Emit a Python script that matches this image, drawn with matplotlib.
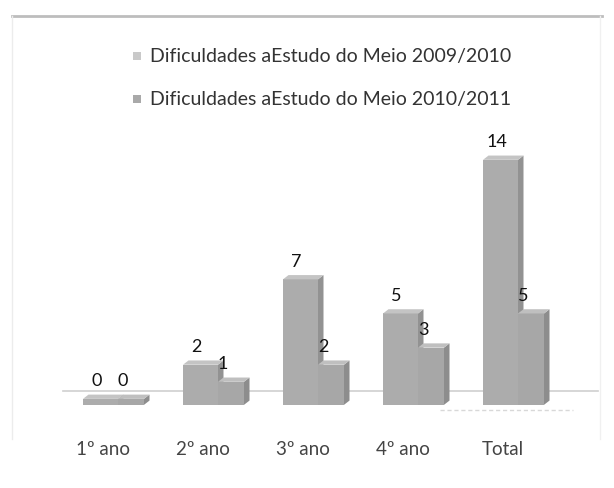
import numpy as np
import matplotlib
matplotlib.use("Agg")
import matplotlib.pyplot as plt
from matplotlib.patches import Polygon, Rectangle
from matplotlib.lines import Line2D

categories = ["1º ano", "2º ano", "3º ano", "4º ano", "Total"]
serie_0910 = [0, 2, 7, 5, 14]
serie_1011 = [0, 1, 2, 3, 5]
legend_labels = ["Dificuldades aEstudo do Meio 2009/2010",
                 "Dificuldades aEstudo do Meio 2010/2011"]

plt.rcParams['font.family'] = ['Lato', 'DejaVu Sans']

fig = plt.figure(figsize=(6.14, 4.88), dpi=100)
ax = fig.add_axes([0, 0, 1, 1])
ax.set_xlim(-1.13, 5.01)
ax.set_ylim(-5.22, 23.36)
ax.axis("off")

base = -0.35      # 3D floor thickness
dx, dy = 0.055, 0.25  # depth of the fake 3D faces

def bar3d(x0, x1, h, front, side, top, z):
    ax.add_patch(Rectangle((x0, base), x1 - x0, h - base, fc=front, ec="none", zorder=z))
    ax.add_patch(Polygon([(x1, base), (x1 + dx, base + dy), (x1 + dx, h + dy), (x1, h)],
                         closed=True, fc=side, ec="none", zorder=z))
    ax.add_patch(Polygon([(x0, h), (x0 + dx, h + dy), (x1 + dx, h + dy), (x1, h)],
                         closed=True, fc=top, ec="none", zorder=z))

# floor lines
ax.plot([-0.5, 4.85], [0.45, 0.45], color="#cfcfcf", lw=1.2, zorder=1)
ax.plot([3.27, 4.6], [-0.65, -0.65], color="#d8d8d8", lw=1, ls=(0, (3, 2)), zorder=1)

for i, (a, b) in enumerate(zip(serie_0910, serie_1011)):
    bar3d(i - 0.30, i + 0.05, a, "#acacac", "#929292", "#c4c4c4", 2)
    bar3d(i + 0.05, i + 0.31, b, "#a7a7a7", "#8d8d8d", "#bfbfbf", 3)
    ax.text(i - 0.165, a + 0.55, str(a), ha="center", va="bottom", fontsize=13, color="#111111", zorder=5)
    ax.text(i + 0.10, b + 0.55, str(b), ha="center", va="bottom", fontsize=13, color="#111111", zorder=5)
    ax.text(i - 0.10, -2.95, categories[i], ha="center", va="center", fontsize=13.5, color="#444444")

# legend
for k, (lab, col) in enumerate(zip(legend_labels, ["#c9c9c9", "#a9a9a9"])):
    yk = 0.885 - k * 0.088
    fig.patches.append(Rectangle((0.216, yk - 0.008), 0.013, 0.016, transform=fig.transFigure,
                                 fc=col, ec="none", figure=fig))
    fig.text(0.245, yk, lab, ha="left", va="center", fontsize=14, color="#333333")

# frame of the pasted chart
fig.add_artist(Line2D([0.02, 0.98], [0.967, 0.967], transform=fig.transFigure, color="#bdbdbd", lw=2))
fig.add_artist(Line2D([0.02, 0.02], [0.967, 0.10], transform=fig.transFigure, color="#ececec", lw=1))
fig.add_artist(Line2D([0.978, 0.978], [0.967, 0.10], transform=fig.transFigure, color="#f0f0f0", lw=1))

fig.savefig("out.png", dpi=100)
